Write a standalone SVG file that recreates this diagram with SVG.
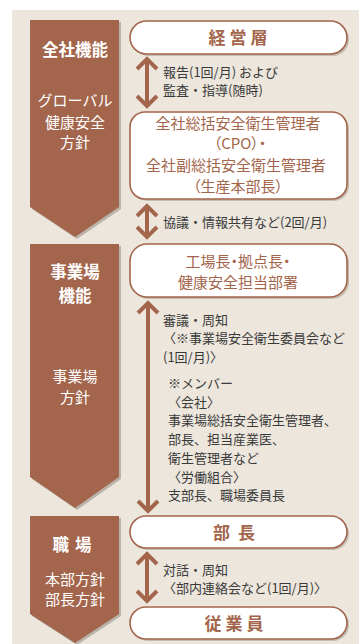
<svg xmlns="http://www.w3.org/2000/svg" width="359" height="644" viewBox="0 0 359 644">
<style>
.lab{font-family:"Noto Sans CJK JP","Noto Sans",sans-serif;}
.side{fill:#a3654b;}
.sh{fill:#b9b3aa;}
.wt{fill:#fff;font-size:15px;text-anchor:middle;}
.wb{fill:#fff;font-size:16.5px;font-weight:bold;text-anchor:middle;}
.node{fill:#fff;stroke:#a3654b;stroke-width:1.6;}
.nsh{fill:#c4bdb3;}
.nt{fill:#a3654b;font-size:15px;text-anchor:middle;font-feature-settings:"palt";}
.nb{fill:#a3654b;font-size:17px;font-weight:bold;text-anchor:middle;letter-spacing:4px;}
.an{fill:#3a3a3a;font-size:13px;}
.ar{fill:none;stroke:#a3654b;stroke-width:4;stroke-linejoin:miter;}
</style>
<rect x="12" y="10" width="347" height="634" fill="#ece6dc"/>

<g id="side-zensha">
<polygon class="sh" points="32,22 121,22 121,209 77,239 32,209"/>
<polygon class="side" points="30,20 119,20 119,207 75,237 30,207"/>
<text class="lab wb" x="75" y="56">全社機能</text>
<text class="lab wt" x="75" y="106">グローバル</text>
<text class="lab wt" x="75" y="128">健康安全</text>
<text class="lab wt" x="75" y="148">方針</text>
</g>
<g id="side-jigyosho">
<polygon class="sh" points="32,246 121,246 121,479 77,510 32,479"/>
<polygon class="side" points="30,244 119,244 119,477 75,508 30,477"/>
<text class="lab wb" x="75" y="278">事業場</text>
<text class="lab wb" x="75" y="302">機能</text>
<text class="lab wt" x="75" y="382">事業場</text>
<text class="lab wt" x="75" y="403">方針</text>
</g>
<g id="side-shokuba">
<polygon class="sh" points="32,518 121,518 121,616 77,645 32,616"/>
<polygon class="side" points="30,516 119,516 119,614 75,643 30,614"/>
<text class="lab wb" x="75" y="551" style="letter-spacing:6px">職場</text>
<text class="lab wt" x="75" y="585">本部方針</text>
<text class="lab wt" x="75" y="605">部長方針</text>
</g>

<g id="connectors">
<path class="ar" d="M147,60 V105 M137,69 L147,59 L157,69 M137,96 L147,106 L157,96"/>
<path class="ar" d="M147,207 V236 M137,216 L147,206 L157,216 M137,227 L147,237 L157,227"/>
<path class="ar" d="M148,304 V510 M138,313 L148,303 L158,313 M138,501 L148,511 L158,501"/>
<path class="ar" d="M147,555 V600 M137,564 L147,554 L157,564 M137,591 L147,601 L157,591"/>
</g>

<g id="label-1">
<text class="lab an" x="163" y="77">報告(1回/月) および</text>
<text class="lab an" x="163" y="95">監査・指導(随時)</text>
</g>
<g id="label-2">
<text class="lab an" x="163" y="227">協議・情報共有など(2回/月)</text>
</g>
<g id="label-3">
<text class="lab an" x="163" y="325">審議・周知</text>
<text class="lab an" x="163" y="343">〈※事業場安全衛生委員会など</text>
<text class="lab an" x="163" y="362">(1回/月)〉</text>
<text class="lab an" x="168" y="388">※メンバー</text>
<text class="lab an" x="168" y="407">〈会社〉</text>
<text class="lab an" x="168" y="425">事業場総括安全衛生管理者、</text>
<text class="lab an" x="168" y="444">部長、担当産業医、</text>
<text class="lab an" x="168" y="463">衛生管理者など</text>
<text class="lab an" x="168" y="482">〈労働組合〉</text>
<text class="lab an" x="168" y="500">支部長、職場委員長</text>
</g>
<g id="label-4">
<text class="lab an" x="163" y="575">対話・周知</text>
<text class="lab an" x="163" y="593">〈部内連絡会など(1回/月)〉</text>
</g>

<g id="node-keieiso">
<rect class="nsh" x="132" y="23" width="217" height="33" rx="16.5"/>
<rect class="node" x="130" y="21" width="217" height="33" rx="16.5"/>
<text class="lab nb" x="240" y="44">経営層</text>
</g>
<g id="node-cpo">
<rect class="nsh" x="132" y="114" width="217" height="87" rx="15"/>
<rect class="node" x="130" y="112" width="217" height="87" rx="15"/>
<text class="lab nt" x="238" y="129">全社総括安全衛生管理者</text>
<text class="lab nt" x="240" y="149">（CPO）・</text>
<text class="lab nt" x="236" y="171">全社副総括安全衛生管理者</text>
<text class="lab nt" x="238" y="192">（生産本部長）</text>
</g>
<g id="node-kojo">
<rect class="nsh" x="132" y="246" width="217" height="53" rx="17"/>
<rect class="node" x="130" y="244" width="217" height="53" rx="17"/>
<text class="lab nt" x="238" y="267">工場長・拠点長・</text>
<text class="lab nt" x="238" y="288">健康安全担当部署</text>
</g>
<g id="node-bucho">
<rect class="nsh" x="132" y="518" width="217" height="32" rx="16"/>
<rect class="node" x="130" y="516" width="217" height="32" rx="16"/>
<text class="lab nb" x="238" y="539" style="letter-spacing:8px">部長</text>
</g>
<g id="node-jugyoin">
<rect class="nsh" x="132" y="609" width="217" height="32" rx="16"/>
<rect class="node" x="130" y="607" width="217" height="32" rx="16"/>
<text class="lab nb" x="236" y="630">従業員</text>
</g>
</svg>
